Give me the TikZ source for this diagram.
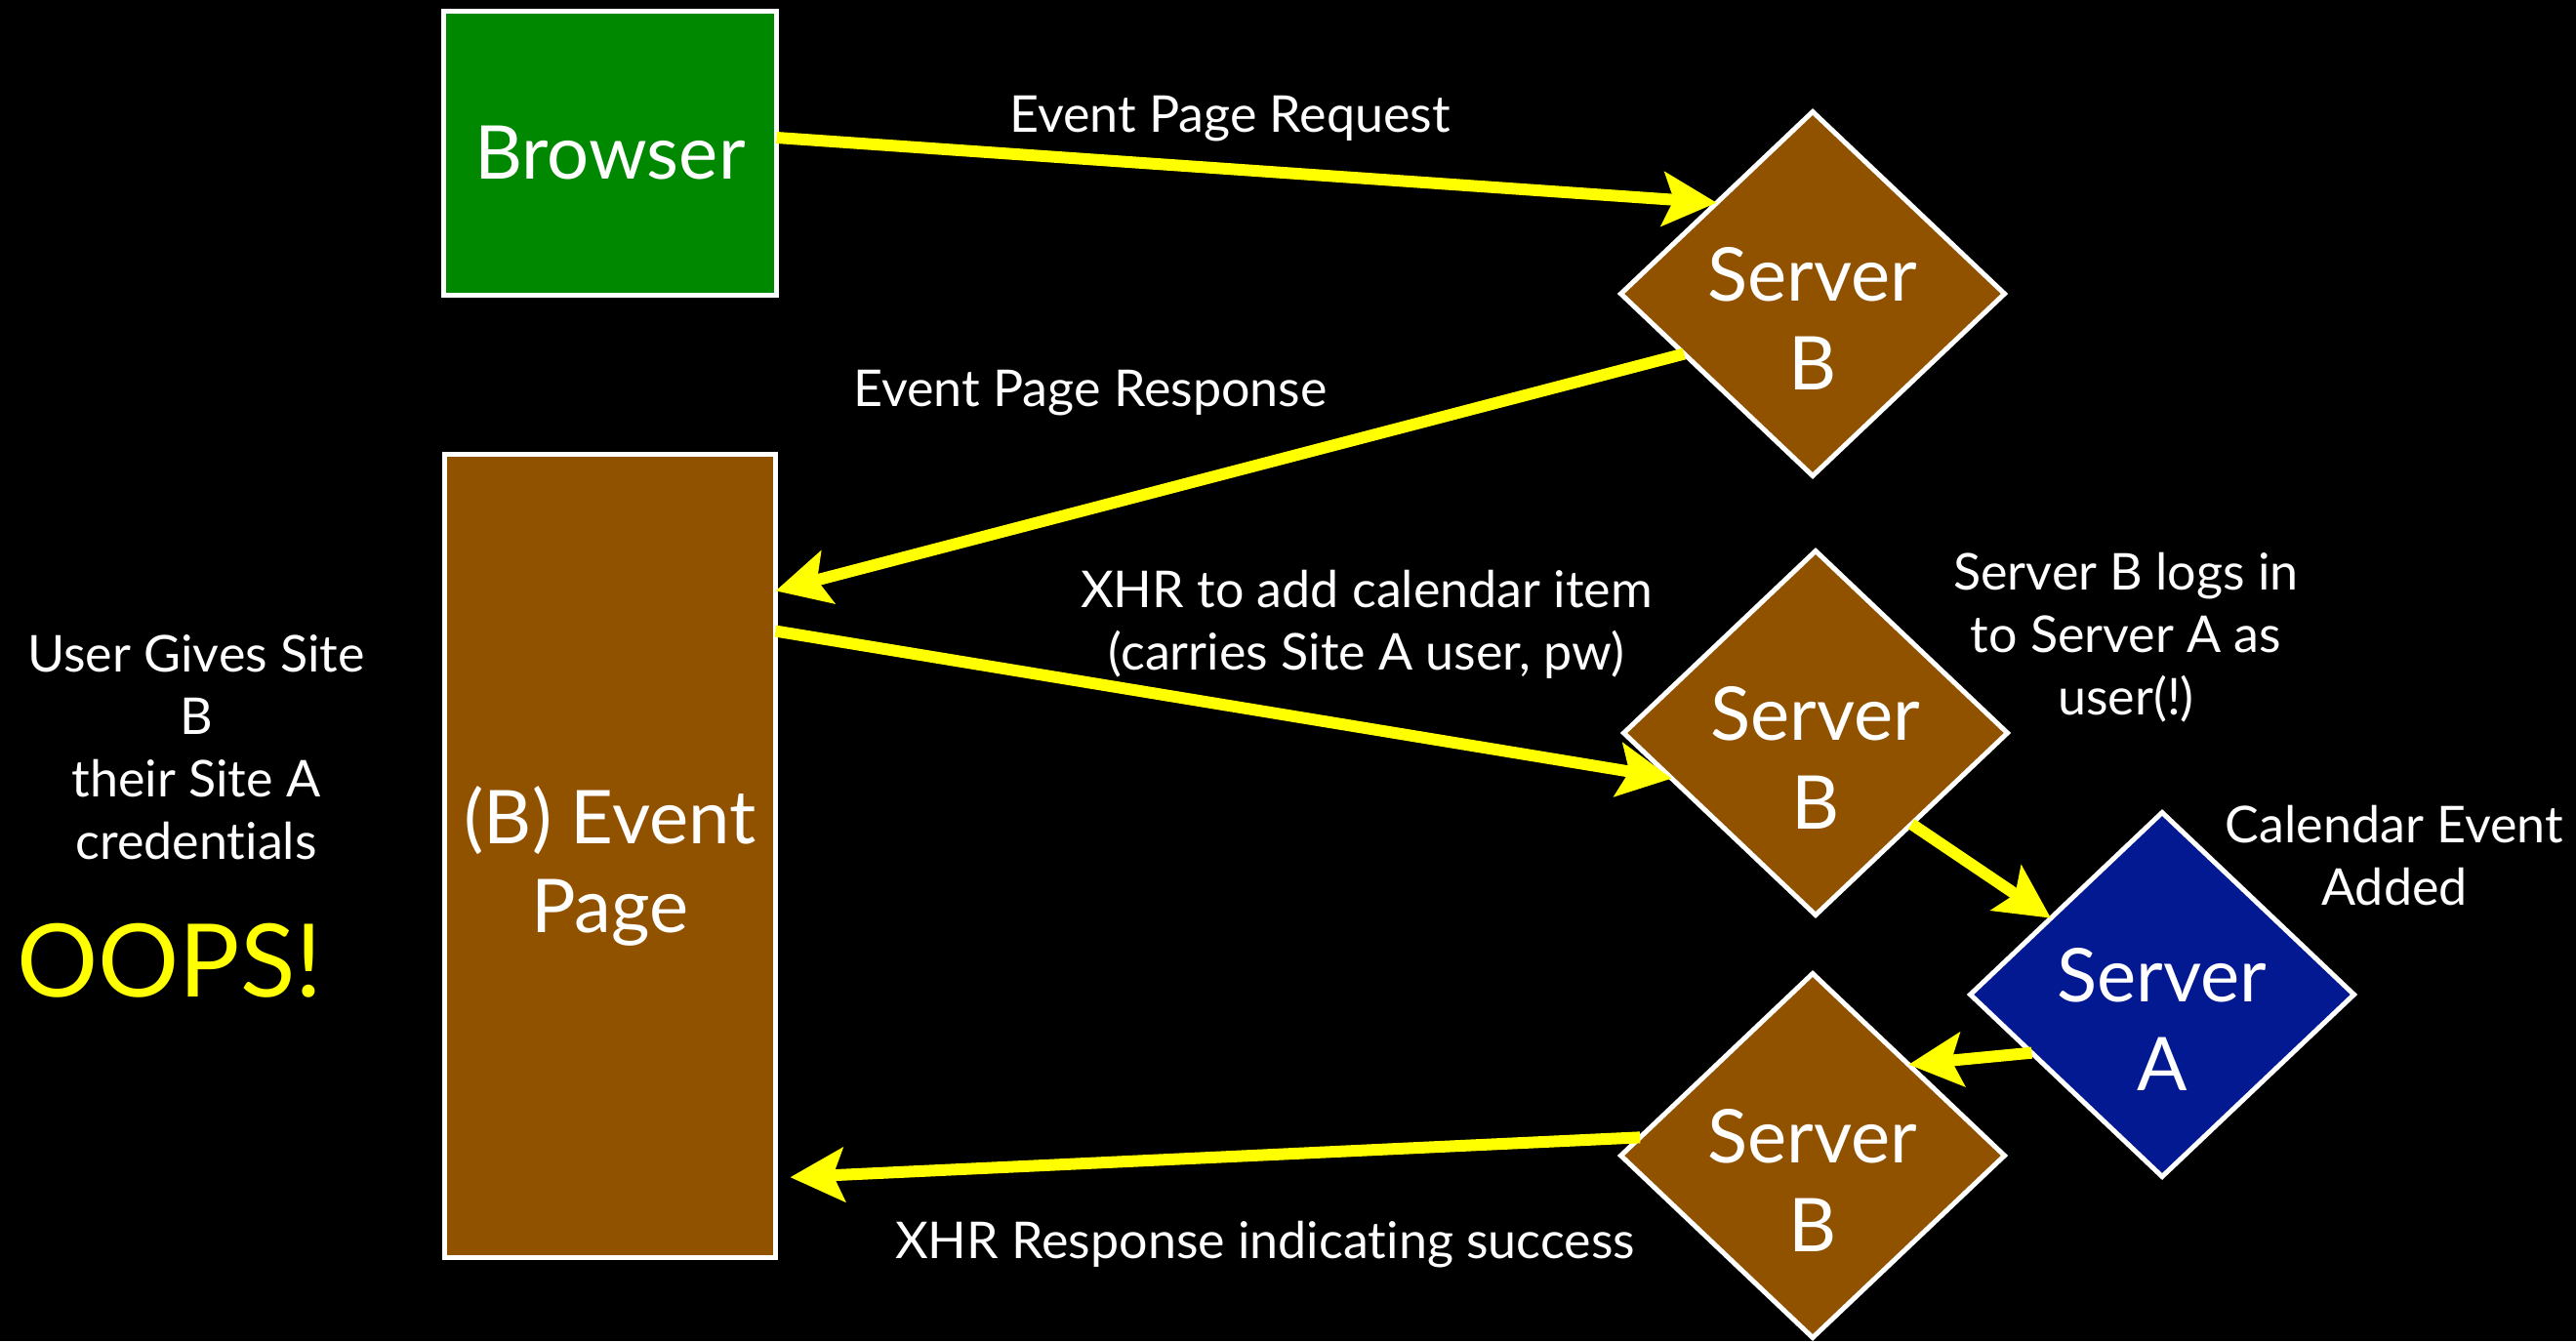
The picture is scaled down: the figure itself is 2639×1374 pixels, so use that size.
\documentclass[tikz,border=0pt]{standalone}
\usepackage{fontspec}
\setmainfont{Lato}[Ligatures=NoCommon]
\usetikzlibrary{shapes.geometric,arrows.meta,calc}
\definecolor{boxgreen}{RGB}{0,137,0}
\definecolor{boxbrown}{RGB}{145,82,0}
\definecolor{boxblue}{RGB}{3,25,145}
\definecolor{flowyellow}{RGB}{255,255,0}
\begin{document}
\begin{tikzpicture}[x=1pt,y=-1pt,
  box/.style={draw=white,line width=5pt,inner sep=0pt,outer sep=0pt,
    text=white,align=center,font=\fontsize{76}{91}\selectfont},
  server/.style={diamond,draw=white,line width=5pt,inner sep=0pt,outer sep=0pt,
    minimum width=393pt,minimum height=373pt,fill=boxbrown},
  servtext/.style={text=white,align=center,inner sep=0pt,
    font=\fontsize{76}{91}\selectfont},
  flow/.style={draw=flowyellow,line width=12pt,
    -{Stealth[length=55pt,width=55pt,inset=11pt]}},
  lbl/.style={text=white,align=center,inner sep=0pt,anchor=base,
    font=\fontsize{52}{64}\selectfont},
  oopsstyle/.style={text=flowyellow,inner sep=0pt,anchor=base,
    font=\fontsize{104}{120}\selectfont}
]
% background
\fill[black] (0,0) rectangle (2639,1374);
\useasboundingbox (0,0) rectangle (2639,1374);

% boxes
\node[box,fill=boxgreen,minimum width=341pt,minimum height=291pt] (browser) at (625,157) {Browser};
\node[box,fill=boxbrown,minimum width=339pt,minimum height=823pt] (ep) at (625,877) {};
\node[servtext] (ept) at ([yshift=-10pt]ep.center) {(B) Event\\Page};

% servers
\node[server] (sb1) at (1857,301) {};
\node[servtext] (sb1t) at ([yshift=-25pt]sb1.center) {Server\\B};
\node[server] (sb2) at (1860,751) {};
\node[servtext] (sb2t) at ([yshift=-25pt]sb2.center) {Server\\B};
\node[server,fill=boxblue] (sa) at (2215,1019) {};
\node[servtext] (sat) at ([yshift=-25pt]sa.center) {Server\\A};
\node[server] (sb3) at (1857,1184) {};
\node[servtext] (sb3t) at ([yshift=-25pt]sb3.center) {Server\\B};

% labels (multi-line labels are placed by the baseline of their last line)
\node[lbl] (lreq) at (1260,135) {Event Page Request};
\node[lbl] (lresp) at (1117,416) {Event Page Response};
\node[lbl] (lxhr) at (1400,686) {XHR to add calendar item\\(carries Site A user, pw)};
\node[lbl] (llog) at (2178,732) {Server B logs in\\to Server A as\\user(!)};
\node[lbl] (lcal) at (2453,927) {Calendar Event\\Added};
\node[lbl] (luser) at (201,880) {User Gives Site\\B\\their Site A\\credentials};
\node[oopsstyle] (oops) at (174,1021) {OOPS!};
\node[lbl] (lsucc) at (1296,1289) {XHR Response indicating success};

% message flow
\draw[flow] ([yshift=16pt]browser.east) -- ($(sb1.west)!0.5!(sb1.north)$);
\draw[flow] ($(sb1.west)!0.33!(sb1.south)$) -- ($(ep.north east)!0.17!(ep.south east)$);
\draw[flow] ($(ep.north east)!0.22!(ep.south east)$) -- ($(sb2.west)!0.25!(sb2.south)$);
\draw[flow] ($(sb2.east)!0.5!(sb2.south)$) -- ($(sa.west)!0.42!(sa.north)$);
\draw[flow] ($(sa.west)!0.32!(sa.south)$) -- ($(sb3.north)!0.5!(sb3.east)$);
\draw[flow] ($(sb3.west)!0.1!(sb3.north)$) -- ($(ep.north east)!0.9!(ep.south east)+(15,0)$);
\end{tikzpicture}
\end{document}
